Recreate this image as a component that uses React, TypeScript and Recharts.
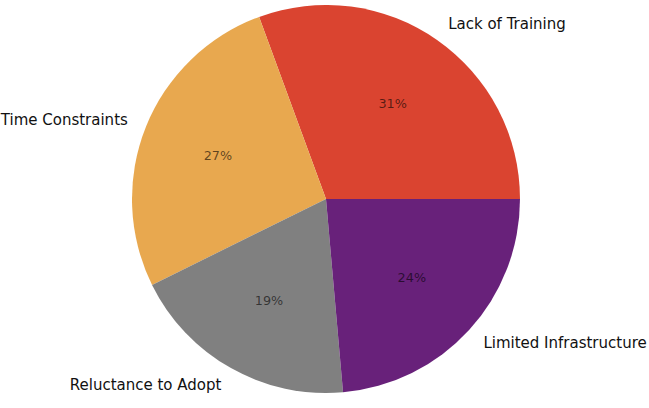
import React from "react";
import { PieChart, Pie, Cell } from "recharts";

const categories = ["Lack of Training", "Time Constraints", "Reluctance to Adopt", "Limited Infrastructure"];
const values = [30.6, 26.7, 19.1, 23.6];
const colors = ["#da4430", "#e8a84f", "#808080", "#68217a"];

const data = categories.map((name, i) => ({ name, value: values[i] }));

const RADIAN = Math.PI / 180;

const renderLabel = (props: any) => {
  const { cx, cy, midAngle, outerRadius, percent, name } = props;
  const cos = Math.cos(-midAngle * RADIAN);
  const sin = Math.sin(-midAngle * RADIAN);
  const rIn = outerRadius * 0.6;
  const rOut = outerRadius * 1.1;
  const ox = cx + rOut * cos;
  const oy = cy + rOut * sin;
  const ix = cx + rIn * cos;
  const iy = cy + rIn * sin;
  return (
    <g>
      <text
        x={ix}
        y={iy}
        textAnchor="middle"
        dominantBaseline="central"
        fontFamily="DejaVu Sans"
        fontSize={12.8}
        fill="#000"
        fillOpacity={0.6}
      >
        {`${Math.round(percent * 100)}%`}
      </text>
      <text
        x={ox}
        y={oy}
        textAnchor={ox > cx ? "start" : "end"}
        dominantBaseline="central"
        fontFamily="DejaVu Sans"
        fontSize={15}
        fill="#111"
      >
        {name}
      </text>
    </g>
  );
};

export default function App() {
  return (
    <div style={{ position: "absolute", left: 0, top: 0, width: 649, height: 408, background: "#fff" }}>
      <PieChart width={649} height={408} margin={{ top: 0, right: 0, bottom: 0, left: 0 }}>
        <Pie
          data={data}
          dataKey="value"
          nameKey="name"
          cx={326}
          cy={199}
          outerRadius={194}
          innerRadius={0}
          startAngle={0}
          endAngle={360}
          stroke="none"
          labelLine={false}
          label={renderLabel}
          isAnimationActive={false}
        >
          {data.map((d, i) => (
            <Cell key={d.name} fill={colors[i]} stroke="none" />
          ))}
        </Pie>
      </PieChart>
    </div>
  );
}
